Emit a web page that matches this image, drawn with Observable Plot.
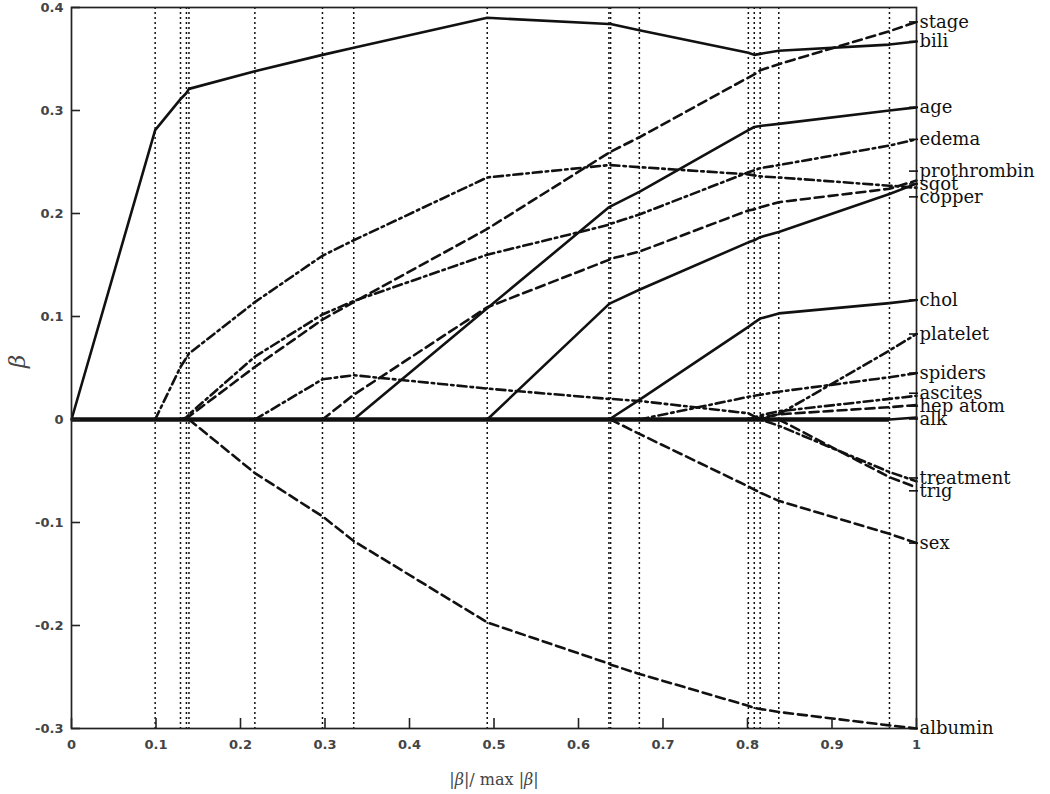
<!DOCTYPE html>
<html><head><meta charset="utf-8">
<script src="https://cdn.jsdelivr.net/npm/d3@7"></script>
<script src="https://cdn.jsdelivr.net/npm/@observablehq/plot@0.6"></script>
<style>html,body{margin:0;padding:0;background:#fff;} #chart svg{display:block;}</style>
</head><body><div id="chart"></div>
<script>
// Breakpoints of the path (|beta| / max |beta|)
const breaks = [0, 0.099, 0.129, 0.136, 0.139, 0.217, 0.297, 0.334, 0.492, 0.636, 0.638, 0.672, 0.801, 0.808, 0.815, 0.837, 0.968, 1];

// Coefficient values at each breakpoint
const bili        = [0, 0.281, 0.311, 0.317, 0.321, 0.338, 0.354, 0.361, 0.390, 0.384, 0.384, 0.378, 0.356, 0.354, 0.355, 0.358, 0.364, 0.367];
const copper      = [0, 0, 0.051, 0.060, 0.064, 0.114, 0.159, 0.174, 0.235, 0.247, 0.247, 0.245, 0.238, 0.237, 0.236, 0.235, 0.227, 0.225];
const edema       = [0, 0, 0, 0.002, 0.005, 0.061, 0.102, 0.115, 0.160, 0.189, 0.190, 0.199, 0.240, 0.242, 0.244, 0.247, 0.266, 0.272];
const stage       = [0, 0, 0, 0, 0.003, 0.051, 0.097, 0.114, 0.185, 0.259, 0.260, 0.274, 0.332, 0.335, 0.339, 0.345, 0.377, 0.386];
const albumin     = [0, 0, 0, 0, 0, -0.052, -0.094, -0.118, -0.197, -0.237, -0.238, -0.247, -0.278, -0.280, -0.281, -0.284, -0.297, -0.300];
const treatment   = [0, 0, 0, 0, 0, 0, 0.039, 0.043, 0.030, 0.020, 0.020, 0.018, 0.006, 0.003, 0.000, -0.006, -0.051, -0.060];
const prothrombin = [0, 0, 0, 0, 0, 0, 0, 0.024, 0.109, 0.155, 0.156, 0.163, 0.203, 0.204, 0.206, 0.211, 0.224, 0.232];
const age         = [0, 0, 0, 0, 0, 0, 0, 0, 0.108, 0.206, 0.207, 0.221, 0.281, 0.284, 0.285, 0.287, 0.300, 0.303];
const sgot        = [0, 0, 0, 0, 0, 0, 0, 0, 0, 0.112, 0.113, 0.126, 0.172, 0.174, 0.177, 0.182, 0.219, 0.229];
const chol        = [0, 0, 0, 0, 0, 0, 0, 0, 0, 0, 0.001, 0.019, 0.090, 0.094, 0.098, 0.103, 0.113, 0.116];
const sex         = [0, 0, 0, 0, 0, 0, 0, 0, 0, 0, 0, -0.014, -0.065, -0.068, -0.071, -0.079, -0.111, -0.120];
const spiders     = [0, 0, 0, 0, 0, 0, 0, 0, 0, 0, 0, 0, 0.022, 0.023, 0.024, 0.027, 0.041, 0.045];
const ascites     = [0, 0, 0, 0, 0, 0, 0, 0, 0, 0, 0, 0, 0, 0.002, 0.004, 0.008, 0.020, 0.023];
const hepatom     = [0, 0, 0, 0, 0, 0, 0, 0, 0, 0, 0, 0, 0, 0, 0.002, 0.005, 0.012, 0.014];
const platelet    = [0, 0, 0, 0, 0, 0, 0, 0, 0, 0, 0, 0, 0, 0, 0, 0.005, 0.067, 0.083];
const trig        = [0, 0, 0, 0, 0, 0, 0, 0, 0, 0, 0, 0, 0, 0, 0, 0, -0.056, -0.066];
const alk         = [0, 0, 0, 0, 0, 0, 0, 0, 0, 0, 0, 0, 0, 0, 0, 0, 0, 0.002];

const variableNames = ["stage", "bili", "age", "edema", "prothrombin", "sgot", "copper", "chol", "platelet",
                       "spiders", "ascites", "hep atom", "alk", "treatment", "trig", "sex", "albumin"];
const variableValues = [stage, bili, age, edema, prothrombin, sgot, copper, chol, platelet,
                        spiders, ascites, hepatom, alk, treatment, trig, sex, albumin];

const xTicks = [0, 0.1, 0.2, 0.3, 0.4, 0.5, 0.6, 0.7, 0.8, 0.9, 1];
const yTicks = [-0.3, -0.2, -0.1, 0, 0.1, 0.2, 0.3, 0.4];
const xLabel = "|β|/ max |β|";
const yLabel = "β";

// styles (kept out of the data)
const styleOf = {
  "bili": "solid", "age": "solid", "sgot": "solid", "chol": "solid", "alk": "solid",
  "stage": "dashed", "albumin": "dashed", "prothrombin": "dashed", "sex": "dashed", "hep atom": "dashed", "trig": "dashed",
  "copper": "dashdot", "edema": "dashdot", "treatment": "dashdot", "spiders": "dashdot", "ascites": "dashdot", "platelet": "dashdot"
};
const dashOf = {solid: null, dashed: "9,5", dashdot: "9,4,2.5,4"};

// Build long table, each path starting where the variable enters the model
const rows = [];
const entries = [];
variableNames.forEach((name, k) => {
  const v = variableValues[k];
  const firstNonZero = v.findIndex(d => d !== 0);
  const entry = Math.max(0, firstNonZero - 1);
  entries.push(breaks[entry]);
  for (let i = entry; i < breaks.length; ++i) rows.push({name, style: styleOf[name], x: breaks[i], y: v[i]});
});
const zeroEnd = d3.max(entries);

// Right-hand labels, spread apart where they collide
const gap = 0.0125;
const ends = variableNames.map((name, k) => ({name, value: variableValues[k][breaks.length - 1]}))
  .sort((a, b) => b.value - a.value);
let clusters = ends.map(e => ({items: [e], center: e.value}));
const cTop = c => c.center + (c.items.length - 1) / 2 * gap;
const cBot = c => c.center - (c.items.length - 1) / 2 * gap;
let merged = true;
while (merged) {
  merged = false;
  for (let i = 0; i < clusters.length - 1; ++i) {
    if (cBot(clusters[i]) - cTop(clusters[i + 1]) < gap - 1e-9) {
      const items = clusters[i].items.concat(clusters[i + 1].items);
      clusters.splice(i, 2, {items, center: d3.mean(items, d => d.value)});
      merged = true; break;
    }
  }
}
const labels = [];
clusters.forEach(c => c.items.forEach((e, j) => labels.push({name: e.name, x: 1, pos: cTop(c) - j * gap})));

const fmt = d => d === 0 ? "0" : String(+d.toFixed(1));
const ink = "#111";

const marks = [
  Plot.ruleX(breaks.slice(1, -1), {stroke: ink, strokeWidth: 1.5, strokeDasharray: "2,3"}),
  Plot.ruleY([0], {x1: 0, x2: zeroEnd, stroke: ink, strokeWidth: 4.5}),
];
for (const s of ["solid", "dashed", "dashdot"]) {
  marks.push(Plot.line(rows.filter(r => r.style === s), {
    x: "x", y: "y", z: "name", stroke: ink, strokeWidth: 2.6,
    strokeDasharray: dashOf[s], strokeLinejoin: "round"
  }));
}
marks.push(
  Plot.frame({stroke: "#222", strokeWidth: 1.7}),
  Plot.axisX(xTicks, {tickSize: -10, tickPadding: 21, tickFormat: fmt, label: null, stroke: "#222",
    strokeWidth: 1.6, fill: "#444", fontSize: 13, fontWeight: "bold", fontFamily: "DejaVu Sans"}),
  Plot.axisY(yTicks, {tickSize: -9, tickPadding: 17, tickFormat: fmt, label: null, stroke: "#222",
    strokeWidth: 1.6, fill: "#444", fontSize: 13, fontWeight: "bold", fontFamily: "DejaVu Sans"}),
  Plot.ruleY(labels, {y: "pos", x1: "x", x2: "x", insetLeft: -7, insetRight: -2, stroke: ink, strokeWidth: 1.6}),
  Plot.text(labels, {x: "x", y: "pos", text: "name", dx: 3, textAnchor: "start", fill: ink,
    fontSize: 18, fontFamily: "DejaVu Serif"}),
  Plot.text([yLabel], {text: d => d, frameAnchor: "left", dx: -54, rotate: -90, fontSize: 23,
    fontStyle: "italic", fontFamily: "DejaVu Serif", fill: "#444"}),
  Plot.text([xLabel], {text: d => d, frameAnchor: "bottom", dy: 56, fontSize: 16,
    fontFamily: "DejaVu Serif", fill: "#444"})
);

const chart = Plot.plot({
  width: 1050, height: 794,
  marginLeft: 71, marginRight: 134, marginTop: 7, marginBottom: 66,
  x: {domain: [0, 1]},
  y: {domain: [-0.3, 0.4]},
  style: {background: "#fff", overflow: "visible"},
  marks
});
document.getElementById("chart").append(chart);

// italicise the β characters in the x label
d3.select(chart).selectAll("text").filter(function () { return this.textContent === xLabel; })
  .each(function () {
    const t = d3.select(this);
    const parts = xLabel.split(/(β)/);
    t.text(null);
    parts.forEach(p => { if (p) t.append("tspan").attr("font-style", p === "β" ? "italic" : null).text(p); });
  });
</script>
</body></html>
